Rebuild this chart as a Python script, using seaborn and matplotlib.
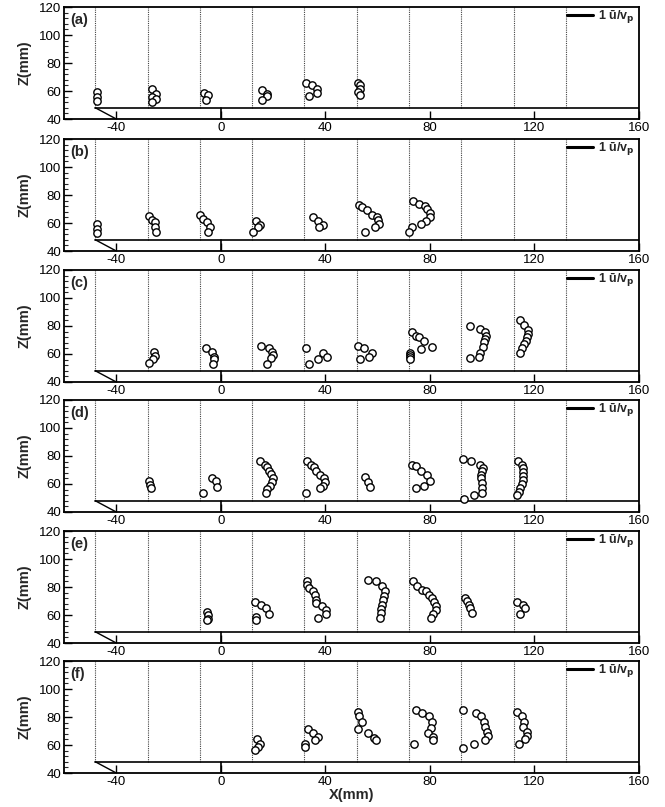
import numpy as np
import pandas as pd
import matplotlib
matplotlib.use("Agg")
import matplotlib.pyplot as plt
from matplotlib.ticker import MultipleLocator
import seaborn as sns

sns.set_style("ticks")
plt.rcParams['font.family'] = ['Liberation Sans', 'DejaVu Sans']
plt.rcParams['axes.unicode_minus'] = False

panel_labels = ["(a)", "(b)", "(c)", "(d)", "(e)", "(f)"]
stations = [-48, -28, -8, 12, 32, 52, 72, 92, 112, 132]
x_ticks = [-40, 0, 40, 80, 120, 160]
z_ticks = [40, 60, 80, 100, 120]

a_x = [-47.5, -47.5, -47.5, -26.4, -24.8, -26.4, -24.8, -26.4, -6.3, -4.8, -5.8,
       15.9, 17.8, 17.5, 15.9, 32.6, 34.9, 36.7, 36.7, 33.8, 52.6, 53.1, 53.1, 52.6, 53.1]
a_z = [59, 56, 53, 61.3, 58.2, 55.5, 54.2, 52, 58.5, 57, 53.5,
       61, 58.2, 56.6, 53.5, 65.6, 64.2, 61.3, 58.5, 56.6, 66, 64, 61.5, 59, 57]

b_x = [-47.5, -47.5, -47.5,
       -27.3, -26.4, -25.1, -25.1, -24.8,
       -8, -6.7, -5.4, -4.2, -4.8,
       13.6, 14.9, 14.3, 12.4,
       35.2, 37.1, 39, 37.5,
       53, 54.2, 56, 57.8, 59.8, 60.3, 60.5, 59, 55,
       73.5, 75.8, 78, 79, 80, 80, 78.4, 76.4, 73, 72]
b_z = [59, 56, 53,
       64.9, 61.8, 60.6, 57, 53.5,
       65.4, 63, 60.6, 57, 53.5,
       61.5, 58.5, 57, 53.5,
       64.5, 61.3, 58.5, 57,
       73, 71.7, 69, 66, 64, 62, 59.5, 57, 53.5,
       76, 73.5, 72.4, 70, 67.5, 64.5, 61.7, 59, 57, 53.5]

c_x = [-25.5, -25.1, -25.8, -27.3,
       -5.8, -3.5, -2.5, -2.5, -2.9,
       15.5, 18.3, 19.5, 20, 19.3, 17.8,
       32.6, 39, 40.6, 37, 33.6,
       52.4, 54.7, 57.8, 56.6, 53.4,
       73.3, 74.5, 75.8, 77.7, 80.9, 76.4, 72.4, 72.4, 72.4, 72.4,
       95.5, 99.3, 101.2, 101.5, 101.2, 100.6, 100.3, 99.3, 98.7, 95.5,
       114.3, 116.1, 117.5, 117.7, 117.1, 116.8, 116, 115.2, 114.5]
c_z = [61.5, 58.5, 56.5, 53.5,
       64, 61.5, 58, 56.5, 53,
       65.5, 64, 61.5, 59.5, 57.5, 53,
       64, 61, 58, 56.5, 53,
       65.5, 64, 60.5, 58, 56.5,
       76, 73, 72, 69, 65, 63.5, 61, 59.5, 58, 56.5,
       80, 78, 76, 73, 70.5, 68.5, 65, 61, 58, 57,
       84, 81, 77, 74.5, 72, 69, 67, 64, 61]

d_x = [-27.4, -27, -26.8,
       -3.5, -1.9, -1.4, -6.7,
       15.1, 16.8, 17.8, 18.3, 19.3, 19.9, 19.6, 18.7, 17.8, 17.4,
       33.1, 34.4, 35.6, 36.5, 38.1, 39.4, 39.7, 39.2, 38.1, 32.6,
       55.2, 56.2, 57.1,
       73, 74.5, 76.4, 79, 80, 77.7, 74.8,
       92.6, 95.9, 99, 100.3, 99.9, 99.7, 99.6, 99.9, 99.9, 99.9, 97, 93,
       113.7, 115.2, 115.8, 115.6, 115.8, 115.8, 115.2, 114.5, 113.9, 113.2]
d_z = [62, 59.5, 57,
       64, 62, 58, 53.5,
       76.2, 73.8, 71.9, 69.1, 67.1, 64.3, 61.4, 58.8, 56.7, 53.6,
       76.7, 73.8, 71.9, 69.5, 66.2, 64.3, 61.4, 58.8, 57.1, 53.6,
       64.8, 61.2, 57.9,
       73.8, 72.6, 69.5, 66.7, 62.5, 58.3, 57.1,
       77.9, 76.2, 73.8, 71.4, 69.1, 66.2, 64.3, 60.7, 57.1, 53.6, 51.9, 49.5,
       76.7, 73.8, 71.4, 68.6, 65.5, 63.1, 60, 57.1, 54.3, 51.9]

e_x = [-5.3, -5, -5, -5.2,
       13, 15.5, 17.4, 18.3, 13.6, 13.3,
       32.8, 33.1, 33.8, 35.1, 36.1, 36.4, 36.4, 38.9, 40.2, 40.2, 37.1,
       56.5, 59.3, 61.8, 62.9, 62.5, 62.1, 61.6, 61.2, 61.2, 61,
       73.5, 75.2, 77.1, 78.4, 79.6, 80.9, 81.5, 82.2, 82.2, 81.3, 80.3,
       93.6, 94, 94.9, 95.5, 96.2,
       113.2, 115.6, 116.5, 114.3]
e_z = [62, 59.8, 57.5, 56.5,
       69.3, 67.4, 65, 61, 58.6, 56.7,
       84.5, 81.7, 79.3, 77.4, 74.5, 71, 68.6, 66.2, 63.8, 60.7, 57.9,
       85.2, 84, 80.5, 76.9, 73.3, 71, 67.4, 64.5, 61.4, 57.9,
       84.5, 81, 78.1, 76.9, 74.5, 72.1, 69.3, 66.2, 63.8, 60.7, 57.9,
       72.1, 70, 67.4, 65, 61.4,
       69.3, 67.4, 65, 61]

f_x = [13.8, 14.9, 14.2, 13.2,
       33.2, 35.2, 37.1, 36.1, 32.3, 32.3,
       52.3, 52.9, 54.2, 52.3, 56.4, 58.6, 59.5,
       74.5, 77.1, 79.6, 80.9, 80.3, 79.4, 81.3, 81.3, 73.9,
       92.7, 97.5, 99.6, 100.6, 101.2, 101.9, 102.1, 101.2, 96.8, 92.6,
       113.2, 115.2, 116.1, 115.8, 117.1, 117.1, 116.5, 113.9]
f_z = [64.1, 60.9, 58.6, 56.2,
       71.7, 68.8, 65.7, 63.3, 60.9, 58.6,
       83.6, 80.5, 76.4, 71.2, 68.6, 65, 63.3,
       84.8, 83.1, 80.5, 76.4, 72.1, 68.6, 65.7, 63.3, 60.9,
       84.8, 83.1, 80.5, 76.4, 72.9, 69.3, 66.4, 63.3, 60.9, 57.9,
       83.6, 80.5, 76.4, 72.9, 69.3, 66.4, 64.1, 60.9]

series = [(a_x, a_z), (b_x, b_z), (c_x, c_z), (d_x, d_z), (e_x, e_z), (f_x, f_z)]
frames = []
for lab, (xs, zs) in zip(panel_labels, series):
    frames.append(pd.DataFrame({"panel": lab, "X": xs, "Z": zs}))
df = pd.concat(frames, ignore_index=True)

W, H = 665, 807
fig = plt.figure(figsize=(W / 100, H / 100), dpi=100)
tops = [7, 139, 270, 400, 531, 661]
left_px, right_px, h_px = 64, 639, 112

for i, lab in enumerate(panel_labels):
    ax = fig.add_axes([left_px / W, 1 - (tops[i] + h_px) / H,
                       (right_px - left_px) / W, h_px / H])
    sub = df[df["panel"] == lab]
    for s in stations:
        ax.plot([s, s], [48, 120], ls=(0, (1, 1)), color="#444444", lw=0.8, zorder=1)
    ax.plot([-48, 160], [48, 48], color="black", lw=1.2, zorder=2)
    ax.plot([-48, -40], [48, 40], color="black", lw=1.0, zorder=2)
    ax.plot([0, 0], [40, 48], color="black", lw=1.2, zorder=2)
    sns.scatterplot(data=sub, x="X", y="Z", ax=ax, marker="o", s=28,
                    facecolor="white", edgecolor="black", linewidth=1.0,
                    zorder=3, legend=False)
    ax.plot([132.5, 142.5], [114.5, 114.5], color="black", lw=2.2, zorder=3)
    ax.text(144.5, 113.0, "1 ū/v$_\\mathbf{p}$", fontsize=9,
            fontweight="bold", va="center", ha="left")
    ax.text(-57.5, 116, lab, fontsize=10.5, fontweight="bold", va="top", ha="left")

    ax.set_xlim(-60, 160)
    ax.set_ylim(40, 120)
    ax.set_xticks(x_ticks)
    ax.set_yticks(z_ticks)
    ax.yaxis.set_minor_locator(MultipleLocator(4))
    ax.tick_params(axis="both", which="major", direction="in", length=6, width=1.0,
                   labelsize=9.5, colors="black", pad=2)
    ax.tick_params(axis="y", which="minor", direction="in", length=3, width=0.8)
    ax.tick_params(axis="x", which="both", top=False)
    ax.tick_params(axis="y", which="both", right=False)
    for sp in ax.spines.values():
        sp.set_visible(True)
        sp.set_linewidth(1.3)
        sp.set_color("black")
    ax.set_ylabel("Z(mm)", fontsize=10.5, fontweight="bold", labelpad=5)
    if i == len(panel_labels) - 1:
        ax.set_xlabel("X(mm)", fontsize=10.5, fontweight="bold", labelpad=0)
    else:
        ax.set_xlabel("")

fig.savefig("out.png", dpi=100)
